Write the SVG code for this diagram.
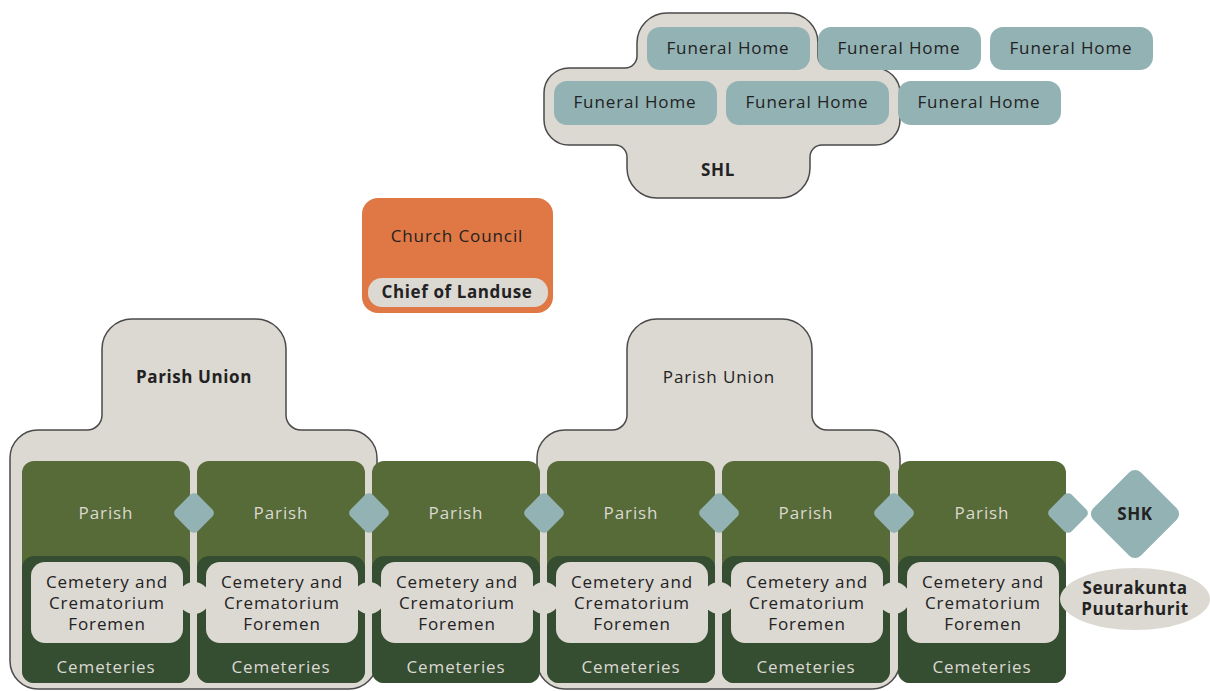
<svg xmlns="http://www.w3.org/2000/svg" width="1210" height="691" viewBox="0 0 1210 691">
<style>
.t{font-family:"Open Sans","Liberation Sans",sans-serif;font-size:17px;fill:#222;text-anchor:middle;letter-spacing:0.9px}
.b{font-weight:bold;letter-spacing:0.6px}
.l{fill:#dcd8d2}
.union{fill:#dcd8d2;stroke:#4a4a4a;stroke-width:1.5}
.fh{fill:#93b2b4}
.pg{fill:#566b37}
.dg{fill:#354d31}
.fm{fill:#dcd8d2}
.dia{fill:#93b2b4}
</style>
<defs>
<rect id="dm" x="-15.5" y="-15.5" width="31" height="31" rx="5" transform="rotate(45)"/>
</defs>
<rect width="1210" height="691" fill="#fff"/>

<g id="shl">
<path class="union" d="M637,43 V56 A12,12 0 0 1 625,68 H569 A25,25 0 0 0 544,93 V120 A25,25 0 0 0 569,145 H615 A12,12 0 0 1 627,157 V168 A30,30 0 0 0 657,198 H780 A30,30 0 0 0 810,168 V157 A12,12 0 0 1 822,145 H875 A25,25 0 0 0 900,120 V93 A25,25 0 0 0 875,68 H830 A12,12 0 0 1 818,56 V43 A30,30 0 0 0 788,13 H667 A30,30 0 0 0 637,43 Z"/>
<text class="t b" x="718" y="176">SHL</text>
</g>
<g id="fh1"><rect class="fh" x="647" y="27" width="163" height="43" rx="13"/><text class="t" x="728" y="54">Funeral Home</text></g>
<g id="fh2"><rect class="fh" x="818" y="27" width="163" height="43" rx="13"/><text class="t" x="899" y="54">Funeral Home</text></g>
<g id="fh3"><rect class="fh" x="990" y="27" width="163" height="43" rx="13"/><text class="t" x="1071" y="54">Funeral Home</text></g>
<g id="fh4"><rect class="fh" x="554" y="81" width="163" height="44" rx="13"/><text class="t" x="635" y="108">Funeral Home</text></g>
<g id="fh5"><rect class="fh" x="726" y="81" width="163" height="44" rx="13"/><text class="t" x="807" y="108">Funeral Home</text></g>
<g id="fh6"><rect class="fh" x="898" y="81" width="163" height="44" rx="13"/><text class="t" x="979" y="108">Funeral Home</text></g>

<g id="church-council">
<rect x="362" y="198" width="191" height="115" rx="16" fill="#e07845"/>
<text class="t" x="457" y="242">Church Council</text>
<rect x="368" y="278" width="180" height="29" rx="14" fill="#dcd8d2"/>
<text class="t b" x="457" y="298">Chief of Landuse</text>
</g>

<g id="union1">
<path class="union" d="M10,458 A28,28 0 0 1 38,430 H87 A15,15 0 0 0 102,415 V349 A30,30 0 0 1 132,319 H256 A30,30 0 0 1 286,349 V415 A15,15 0 0 0 301,430 H349 A28,28 0 0 1 377,458 V661 A28,28 0 0 1 349,689 H38 A28,28 0 0 1 10,661 Z"/>
<text class="t b" x="194" y="383">Parish Union</text>
</g>
<g id="union2">
<path class="union" d="M537,458 A28,28 0 0 1 565,430 H612 A15,15 0 0 0 627,415 V349 A30,30 0 0 1 657,319 H782 A30,30 0 0 1 812,349 V415 A15,15 0 0 0 827,430 H872 A28,28 0 0 1 900,458 V661 A28,28 0 0 1 872,689 H565 A28,28 0 0 1 537,661 Z"/>
<text class="t" x="719" y="383">Parish Union</text>
</g>

<g id="parish1"><rect class="pg" x="22" y="461" width="168" height="222" rx="12"/><rect class="dg" x="22" y="556" width="168" height="127" rx="12"/><text class="t l" x="106" y="519">Parish</text><rect class="fm" x="31" y="562" width="152" height="81" rx="14"/><text class="t" x="107" y="588">Cemetery and</text><text class="t" x="107" y="609">Crematorium</text><text class="t" x="107" y="630">Foremen</text><text class="t l" x="106" y="673">Cemeteries</text></g>
<g id="parish2"><rect class="pg" x="197" y="461" width="168" height="222" rx="12"/><rect class="dg" x="197" y="556" width="168" height="127" rx="12"/><text class="t l" x="281" y="519">Parish</text><rect class="fm" x="206" y="562" width="152" height="81" rx="14"/><text class="t" x="282" y="588">Cemetery and</text><text class="t" x="282" y="609">Crematorium</text><text class="t" x="282" y="630">Foremen</text><text class="t l" x="281" y="673">Cemeteries</text></g>
<g id="parish3"><rect class="pg" x="372" y="461" width="168" height="222" rx="12"/><rect class="dg" x="372" y="556" width="168" height="127" rx="12"/><text class="t l" x="456" y="519">Parish</text><rect class="fm" x="381" y="562" width="152" height="81" rx="14"/><text class="t" x="457" y="588">Cemetery and</text><text class="t" x="457" y="609">Crematorium</text><text class="t" x="457" y="630">Foremen</text><text class="t l" x="456" y="673">Cemeteries</text></g>
<g id="parish4"><rect class="pg" x="547" y="461" width="168" height="222" rx="12"/><rect class="dg" x="547" y="556" width="168" height="127" rx="12"/><text class="t l" x="631" y="519">Parish</text><rect class="fm" x="556" y="562" width="152" height="81" rx="14"/><text class="t" x="632" y="588">Cemetery and</text><text class="t" x="632" y="609">Crematorium</text><text class="t" x="632" y="630">Foremen</text><text class="t l" x="631" y="673">Cemeteries</text></g>
<g id="parish5"><rect class="pg" x="722" y="461" width="168" height="222" rx="12"/><rect class="dg" x="722" y="556" width="168" height="127" rx="12"/><text class="t l" x="806" y="519">Parish</text><rect class="fm" x="731" y="562" width="152" height="81" rx="14"/><text class="t" x="807" y="588">Cemetery and</text><text class="t" x="807" y="609">Crematorium</text><text class="t" x="807" y="630">Foremen</text><text class="t l" x="806" y="673">Cemeteries</text></g>
<g id="parish6"><rect class="pg" x="898" y="461" width="168" height="222" rx="12"/><rect class="dg" x="898" y="556" width="168" height="127" rx="12"/><text class="t l" x="982" y="519">Parish</text><rect class="fm" x="907" y="562" width="152" height="81" rx="14"/><text class="t" x="983" y="588">Cemetery and</text><text class="t" x="983" y="609">Crematorium</text><text class="t" x="983" y="630">Foremen</text><text class="t l" x="982" y="673">Cemeteries</text></g>

<g id="shk">
<rect class="dia" x="-33.5" y="-33.5" width="67" height="67" rx="8" transform="translate(1135,514) rotate(45)"/>
<text class="t b" x="1135" y="520">SHK</text>
</g>
<g id="seurakunta-puutarhurit">
<ellipse cx="1135" cy="599" rx="75" ry="31" fill="#dcd8d2"/>
<text class="t b" x="1135" y="594">Seurakunta</text>
<text class="t b" x="1135" y="615">Puutarhurit</text>
</g>

<g id="connectors">
<g class="dia">
<use href="#dm" transform="translate(194,513)"/>
<use href="#dm" transform="translate(369,513)"/>
<use href="#dm" transform="translate(544,513)"/>
<use href="#dm" transform="translate(719,513)"/>
<use href="#dm" transform="translate(894,513)"/>
<use href="#dm" transform="translate(1068,513)"/>
</g>
<g class="fm">
<circle cx="194" cy="598" r="16"/>
<circle cx="369" cy="598" r="16"/>
<circle cx="544" cy="598" r="16"/>
<circle cx="719" cy="598" r="16"/>
<circle cx="894" cy="598" r="16"/>
</g>
</g>
</svg>
